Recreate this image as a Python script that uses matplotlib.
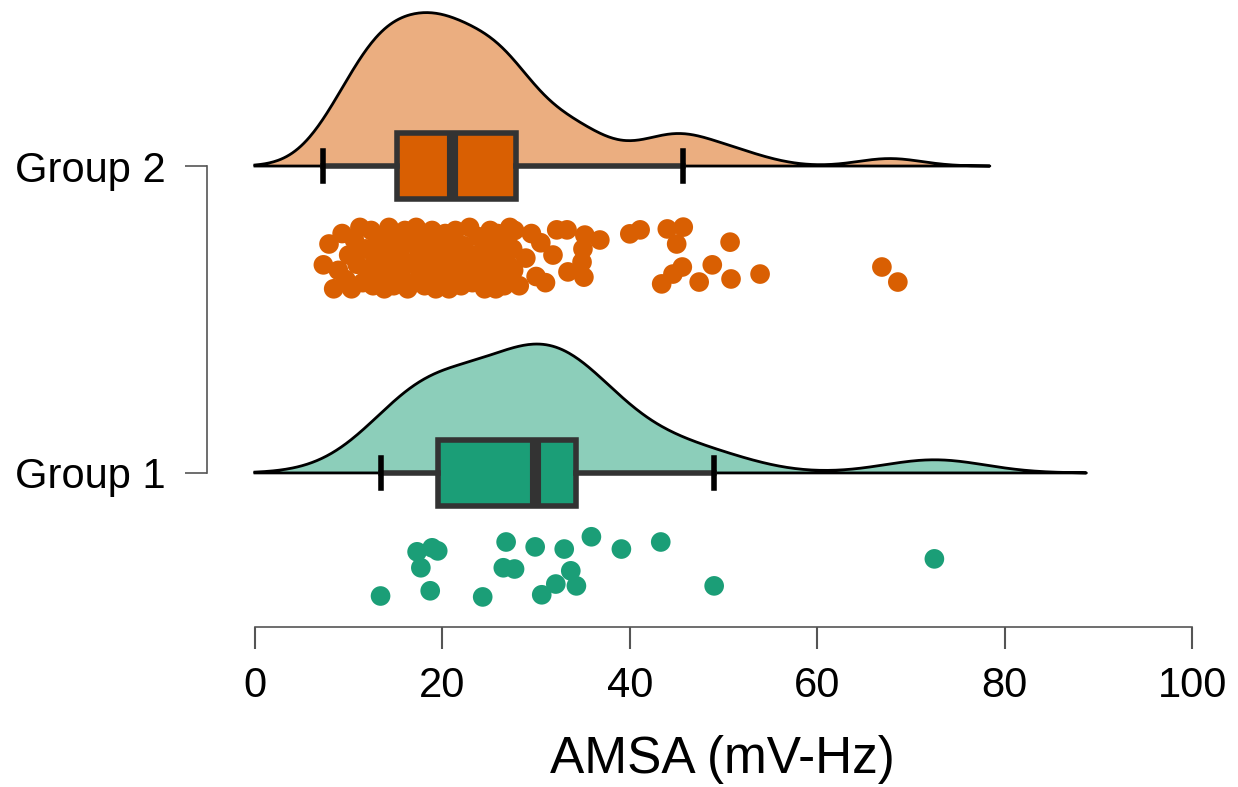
import numpy as np
import matplotlib
matplotlib.use('Agg')
import matplotlib.pyplot as plt

plt.rcParams['font.family'] = ['Liberation Sans', 'DejaVu Sans']

groups = ['Group 1', 'Group 2']
colors = ['#1B9E77', '#D95F02']

# AMSA values (mV-Hz) and vertical jitter of the rain points
g1_x = [13.4, 17.3, 18.9, 19.5, 17.7, 18.7, 24.3, 26.8, 26.5, 27.7, 29.9,
        30.6, 32.1, 33.0, 33.7, 34.3, 35.9, 39.1, 43.3, 49.0, 72.5]
g1_y = [0.599, 0.743, 0.756, 0.746, 0.691, 0.616, 0.596, 0.775, 0.691, 0.687, 0.759,
        0.603, 0.638, 0.752, 0.681, 0.632, 0.792, 0.752, 0.775, 0.632, 0.720]

g2_x = [7.3, 7.9, 8.4, 8.9, 9.3, 9.7, 10.0, 10.3, 10.6, 10.9,
        11.2, 11.5, 11.8, 12.1, 12.4, 12.6, 12.8, 13.0, 13.2, 13.4,
        13.6, 13.8, 14.0, 14.2, 14.3, 14.4, 14.6, 14.7, 14.8, 14.9,
        15.2, 15.5, 15.8, 16.0, 16.3, 16.5, 16.8, 17.0, 17.2, 17.5,
        17.7, 17.9, 18.1, 18.3, 18.5, 18.7, 18.9, 19.1, 19.3, 19.5,
        19.7, 19.8, 20.0, 20.1, 20.3, 20.4, 20.6, 20.7, 20.8, 20.9,
        21.1, 21.4, 21.7, 22.0, 22.3, 22.6, 22.9, 23.2, 23.5, 23.8,
        24.0, 24.3, 24.5, 24.7, 24.9, 25.1, 25.3, 25.5, 25.7, 25.9,
        26.2, 26.4, 26.6, 26.8, 27.0, 27.2, 27.3, 27.5, 27.6, 27.7,
        28.2, 28.9, 29.5, 30.0, 30.5, 31.0,
        31.8, 32.2, 33.3, 33.4, 34.9, 35.0, 35.1, 35.2, 36.8,
        40.0, 41.1, 43.4, 44.0, 44.6, 45.0, 45.6, 45.7,
        47.4, 48.8, 50.7, 50.8, 53.9,
        66.9, 68.6]
g2_y = [1.678, 1.746, 1.60, 1.66, 1.78, 1.63, 1.71, 1.60, 1.76, 1.68,
        1.80, 1.62, 1.73, 1.66, 1.79, 1.61, 1.70, 1.75, 1.64, 1.68,
        1.77, 1.60, 1.72, 1.65, 1.80, 1.62, 1.69, 1.74, 1.61, 1.78,
        1.66, 1.71, 1.63, 1.79, 1.60, 1.75, 1.68, 1.62, 1.80, 1.72,
        1.65, 1.77, 1.61, 1.70, 1.74, 1.63, 1.79, 1.67, 1.60, 1.73,
        1.76, 1.64, 1.69, 1.61, 1.78, 1.66, 1.72, 1.60, 1.75, 1.68,
        1.63, 1.79, 1.70, 1.61, 1.74, 1.66, 1.80, 1.62, 1.71, 1.77,
        1.64, 1.69, 1.60, 1.75, 1.67, 1.79, 1.62, 1.72, 1.60, 1.78,
        1.65, 1.70, 1.61, 1.76, 1.68, 1.80, 1.63, 1.73, 1.66, 1.79,
        1.61, 1.70, 1.78, 1.64, 1.75, 1.62,
        1.710, 1.792, 1.792, 1.655, 1.687, 1.730, 1.638, 1.775, 1.759,
        1.779, 1.792, 1.616, 1.795, 1.648, 1.746, 1.671, 1.801,
        1.622, 1.678, 1.752, 1.632, 1.648,
        1.671, 1.622]

data_x = [g1_x, g2_x]
data_y = [g1_y, g2_y]
positions = [1, 2]
cloud_height = [0.42, 0.50]


def kde_curve(vals):
    vals = np.asarray(vals)
    n = len(vals)
    q75, q25 = np.percentile(vals, [75, 25])
    bw = 0.9 * min(vals.std(ddof=1), (q75 - q25) / 1.34) * n ** -0.2
    grid = np.linspace(0, vals.max() + 3 * bw, 512)
    dens = np.exp(-0.5 * ((grid[:, None] - vals[None, :]) / bw) ** 2).sum(axis=1)
    return grid, dens / dens.max()


fig = plt.figure(figsize=(12.38, 7.87), dpi=100)
ax = fig.add_axes([207 / 1238, 160 / 787, 1 - 207 / 1238, 627 / 787])

for vals, pos, col, h in zip(data_x, positions, colors, cloud_height):
    grid, dens = kde_curve(vals)
    ax.fill_between(grid, pos, pos + dens * h, color=col, alpha=0.5, lw=0, zorder=1)
    ox = np.concatenate([grid, grid[::-1]])
    oy = np.concatenate([pos + dens * h, np.full(len(grid), pos)])
    ax.plot(ox, oy, color='black', lw=2, zorder=2)

bp = ax.boxplot(data_x, positions=positions, orientation='horizontal', widths=0.215,
                capwidths=0.098, showfliers=False, patch_artist=True,
                boxprops=dict(edgecolor='#333333', linewidth=4),
                medianprops=dict(color='#333333', linewidth=8, solid_capstyle='butt'),
                whiskerprops=dict(color='#333333', linewidth=4),
                capprops=dict(color='black', linewidth=4),
                zorder=3)
for patch, col in zip(bp['boxes'], colors):
    patch.set_facecolor(col)

for xs, ys, col in zip(data_x, data_y, colors):
    ax.scatter(xs, ys, s=200, color=col, edgecolors='none', zorder=4)

ax.set_xlim(-5.12, 104.9)
ax.set_ylim(0.498, 2.541)
ax.set_xticks([0, 20, 40, 60, 80, 100])
ax.set_yticks(positions)
ax.set_yticklabels(groups)
ax.set_xlabel('AMSA (mV-Hz)', fontsize=37, labelpad=21)

for side in ['top', 'right']:
    ax.spines[side].set_visible(False)
ax.spines['left'].set_bounds(1, 2)
ax.spines['bottom'].set_bounds(0, 100)
for side in ['left', 'bottom']:
    ax.spines[side].set_color('#555555')
    ax.spines[side].set_linewidth(1.2)
ax.tick_params(axis='x', length=16, width=1.5, color='#555555', labelsize=30, pad=12)
ax.tick_params(axis='y', length=16, width=1.2, color='#555555', labelsize=30, pad=14)

fig.savefig('out.png', dpi=100)
